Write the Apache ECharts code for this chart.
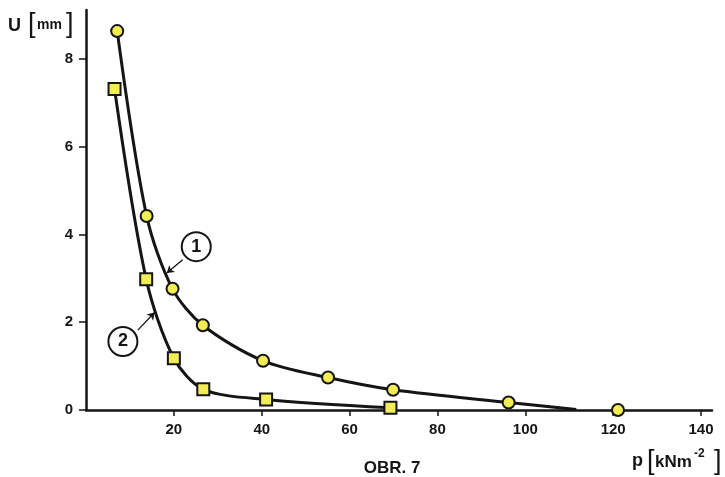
<!DOCTYPE html>
<html><head><meta charset="utf-8">
<script src="https://cdn.jsdelivr.net/npm/echarts@6/dist/echarts.min.js"></script>
<style>html,body{margin:0;padding:0;background:#fff}#c{width:725px;height:477px}</style>
</head><body><div id="c"></div>
<script>
// measured points (p in kN/m^2, U in mm)
const circleP = [7.1, 13.8, 19.7, 26.6, 40.3, 55.1, 69.9, 96.2, 121.1];
const circleU = [8.63, 4.42, 2.76, 1.93, 1.12, 0.74, 0.46, 0.17, 0.0];
const squareP = [6.5, 13.7, 20.0, 26.7, 41.0, 69.3];
const squareU = [7.31, 2.98, 1.18, 0.47, 0.24, 0.05];
// drawn curves (nodes traced on the figure)
const curve1P = [7.1, 13.8, 19.7, 26.6, 40.3, 55.1, 69.9, 96.2, 111.6];
const curve1U = [8.63, 4.42, 2.76, 1.93, 1.12, 0.74, 0.46, 0.17, 0.01];
const curve2P = [6.5, 13.7, 20.0, 26.7, 41.0, 69.3];
const curve2U = [7.31, 2.98, 1.18, 0.47, 0.24, 0.05];
// axis ticks
const xTicks = [20, 40, 60, 80, 100, 120, 140];
const yTicks = [0, 2, 4, 6, 8];
// curve tags and arrows
const tagNames = ['1', '2'];
const tagP = [25.1, 8.4];
const tagU = [3.72, 1.56];
const arrowFromP = [22.0, 11.8];
const arrowFromU = [3.42, 1.82];
const arrowToP = [18.4, 15.6];
const arrowToU = [3.12, 2.22];

const zip = (a, b) => a.map((v, i) => [v, b[i]]);
const FONT = 'Liberation Sans';
const INK = '#151515';
const YEL = '#f2ec55';

const chart = echarts.init(document.getElementById('c'), null, {renderer: 'canvas'});
chart.setOption({
  backgroundColor: '#ffffff',
  animation: false,
  grid: {left: 86, right: 13, top: 10, bottom: 67, containLabel: false},
  xAxis: {
    type: 'value', min: 0, max: 142.5, interval: 20,
    axisLine: {show: true, lineStyle: {color: INK, width: 2.5}},
    axisTick: {show: true, length: 6, lineStyle: {color: INK, width: 1.5}, customValues: xTicks},
    axisLabel: {show: true, margin: 12, color: INK, fontFamily: FONT, fontWeight: 'bold', fontSize: 15, customValues: xTicks},
    splitLine: {show: false}
  },
  yAxis: {
    type: 'value', min: 0, max: 9.11, interval: 2,
    axisLine: {show: true, lineStyle: {color: INK, width: 2.5}},
    axisTick: {show: true, length: 7, lineStyle: {color: INK, width: 1.5}, customValues: yTicks},
    axisLabel: {show: true, margin: 13, color: INK, fontFamily: FONT, fontWeight: 'bold', fontSize: 15, customValues: yTicks},
    splitLine: {show: false}
  },
  series: [
    {type: 'line', data: zip(curve1P, curve1U), smooth: 0.3, showSymbol: false, symbol: 'none',
     lineStyle: {color: INK, width: 3}, z: 3, silent: true},
    {type: 'line', data: zip(curve2P, curve2U), smooth: 0.3, showSymbol: false, symbol: 'none',
     lineStyle: {color: INK, width: 3}, z: 3, silent: true},
    {type: 'scatter', data: zip(circleP, circleU), symbol: 'circle', symbolSize: 12,
     itemStyle: {color: YEL, borderColor: INK, borderWidth: 2, opacity: 1}, z: 5},
    {type: 'scatter', data: zip(squareP, squareU), symbol: 'rect', symbolSize: 12,
     itemStyle: {color: YEL, borderColor: INK, borderWidth: 2, opacity: 1}, z: 5},
    {type: 'scatter', data: tagNames.map((n, i) => [tagP[i], tagU[i], n]), symbol: 'circle', symbolSize: 29,
     itemStyle: {color: '#ffffff', borderColor: INK, borderWidth: 2, opacity: 1}, z: 6,
     label: {show: true, position: 'inside', formatter: p => p.value[2], color: INK, fontFamily: FONT, fontWeight: 'bold', fontSize: 18},
     markLine: {
       silent: true, symbol: ['none', 'arrow'], symbolSize: 7, animation: false,
       label: {show: false},
       lineStyle: {color: INK, width: 1.3, type: 'solid'},
       data: arrowFromP.map((p, i) => [{coord: [p, arrowFromU[i]]}, {coord: [arrowToP[i], arrowToU[i]]}])
     }}
  ],
  graphic: [
    {type: 'text', x: 8, y: 26, style: {text: 'U', font: 'bold 18px "Liberation Sans"', fill: INK, verticalAlign: 'middle'}},
    {type: 'text', x: 28, y: 25, style: {text: '[', font: '27px "Liberation Sans"', fill: INK, verticalAlign: 'middle'}},
    {type: 'text', x: 37, y: 25, style: {text: 'mm', font: 'bold 14px "Liberation Sans"', fill: INK, verticalAlign: 'middle'}},
    {type: 'text', x: 66, y: 25, style: {text: ']', font: '27px "Liberation Sans"', fill: INK, verticalAlign: 'middle'}},
    {type: 'text', x: 632, y: 461, style: {text: 'p', font: 'bold 18px "Liberation Sans"', fill: INK, verticalAlign: 'middle'}},
    {type: 'text', x: 647, y: 462, style: {text: '[', font: '27px "Liberation Sans"', fill: INK, verticalAlign: 'middle'}},
    {type: 'text', x: 655, y: 462, style: {text: 'kNm', font: 'bold 17px "Liberation Sans"', fill: INK, verticalAlign: 'middle'}},
    {type: 'text', x: 694, y: 454, style: {text: '-2', font: 'bold 12px "Liberation Sans"', fill: INK, verticalAlign: 'middle'}},
    {type: 'text', x: 714, y: 462, style: {text: ']', font: '27px "Liberation Sans"', fill: INK, verticalAlign: 'middle'}},
    {type: 'text', x: 392, y: 468, style: {text: 'OBR. 7', font: 'bold 17px "Liberation Sans"', fill: INK, align: 'center', verticalAlign: 'middle'}}
  ]
});
</script>
</body></html>
